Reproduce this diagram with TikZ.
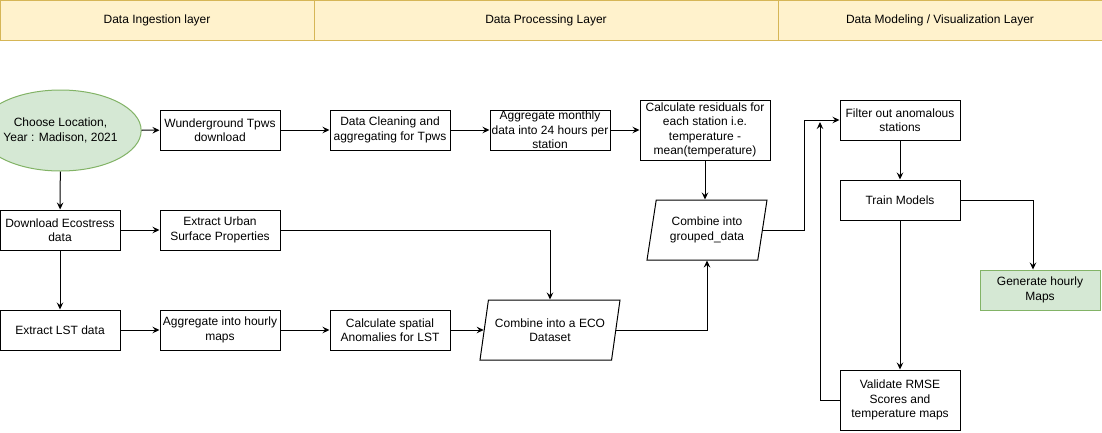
\documentclass[tikz,border=0pt]{standalone}
\usepackage{fontspec}
\setmainfont{Liberation Sans}
\usetikzlibrary{arrows.meta,shapes.geometric}
\definecolor{layerfill}{HTML}{FFF2CC}
\definecolor{layerdraw}{HTML}{D6B656}
\definecolor{startfill}{HTML}{D5E8D4}
\definecolor{startdraw}{HTML}{82B366}

\begin{document}
\begin{tikzpicture}[x=1pt,y=-1pt,
   every node/.style={font=\fontsize{12}{14.5}\selectfont,align=center,inner sep=1pt},
   layer/.style={draw=layerdraw,fill=layerfill,line width=1pt,minimum height=40pt},
   box/.style={draw,line width=1pt,minimum width=120pt,minimum height=40pt},
   start/.style={ellipse,draw=startdraw,fill=startfill,line width=1pt,
      minimum width=121pt,minimum height=81pt,inner sep=0pt},
   result/.style={box,draw=startdraw,fill=startfill},
   dataset/.style={trapezium,draw,line width=1pt,trapezium left angle=71.57,
      trapezium right angle=108.43,trapezium stretches body,minimum height=60pt},
   arr/.style={line width=1pt,-{Stealth[length=7pt,width=6.5pt,inset=2.5pt]}}]
\useasboundingbox (0,0) rectangle (1102,432);

% layers
\node[layer,minimum width=314pt] (hIngest) at (157,20) {Data Ingestion layer};
\node[layer,minimum width=464pt] (hProc) at (546,20) {Data Processing Layer};
\node[layer,minimum width=324pt] (hModel) at (940,20) {Data Modeling / Visualization Layer};

% ingestion
\node[start] (loc) at (60.5,130.5) {Choose Location,\\Year : Madison, 2021};
\node[box] (wund) at (220,130) {Wunderground Tpws\\download};
\node[box] (dlEco) at (60,230) {Download Ecostress\\data};
\node[box] (urban) at (220,230) {Extract Urban\\Surface Properties};
\node[box] (lst) at (60,330) {Extract LST data};
\node[box] (hourly) at (220,330) {Aggregate into hourly\\maps};

% processing
\node[box] (clean) at (390,130) {Data Cleaning and\\aggregating for Tpws};
\node[box,inner sep=0pt] (aggr) at (550,130) {Aggregate monthly\\data into 24 hours per\\station};
\node[box,minimum width=130pt,minimum height=60pt] (resid) at (705,130)
   {Calculate residuals for\\each station i.e.\\temperature -\\mean(temperature)};
\node[box] (spatial) at (390,330) {Calculate spatial\\Anomalies for LST};
\node[dataset,minimum width=140pt] (eco) at (550,330) {Combine into a ECO\\Dataset};
\node[dataset,minimum width=120pt] (grp) at (707,230) {Combine into\\grouped\_data};

% modeling
\node[box] (filt) at (900,120) {Filter out anomalous\\stations};
\node[box] (train) at (900,200) {Train Models};
\node[result] (gen) at (1040,290) {Generate hourly\\Maps};
\node[box,minimum height=60pt] (valid) at (900,400) {Validate RMSE\\Scores and\\temperature maps};

\coordinate (jFilt) at (804,120);
\coordinate (jBack) at (820,122);

\draw[arr] (loc) -- (wund);
\draw[arr] (wund) -- (clean);
\draw[arr] (clean) -- (aggr);
\draw[arr] (aggr) -- (resid);
\draw[arr] (resid.south) -- (resid.south |- grp.north);
\draw[arr] (loc) -- (dlEco);
\draw[arr] (dlEco) -- (urban);
\draw[arr] (dlEco) -- (lst);
\draw[arr] (lst) -- (hourly);
\draw[arr] (hourly) -- (spatial);
\draw[arr] (spatial.east) -- (eco.left side);
\draw[arr] (urban.east) -| (eco.north);
\draw[arr] (eco.right side) -| (grp.south);
\draw[arr] (grp.right side) -| (jFilt) -- (filt.west);
\draw[arr] (filt) -- (train);
\draw[arr] (train.east) -| ([xshift=-7pt]gen.north);
\draw[arr] (train) -- (valid);
\draw[arr] (valid.west) -| (jBack);
\end{tikzpicture}
\end{document}
